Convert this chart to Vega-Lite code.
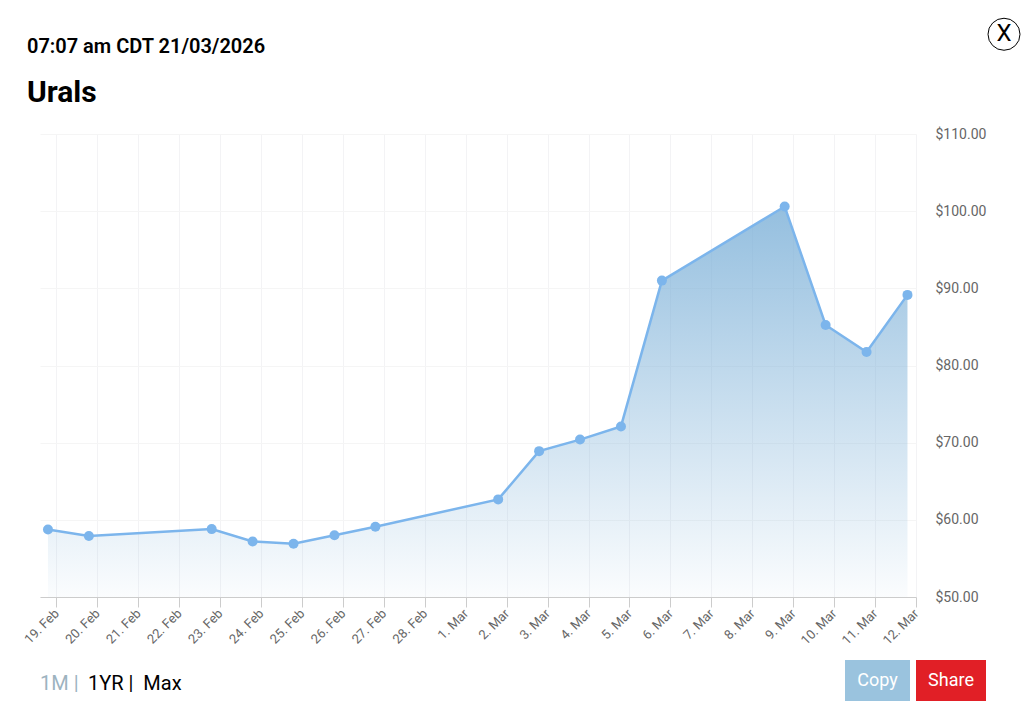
{
  "$schema": "https://vega.github.io/schema/vega-lite/v6.json",
  "padding": {"left": 22, "top": 16, "right": 0, "bottom": 0},
  "background": "#ffffff",
  "bounds": "flush",
  "spacing": 63,
  "datasets": {
    "urals": [
      {"date": "2026-02-18T19:00:00Z", "price": 58.75},
      {"date": "2026-02-19T19:00:00Z", "price": 57.9},
      {"date": "2026-02-22T19:00:00Z", "price": 58.8},
      {"date": "2026-02-23T19:00:00Z", "price": 57.2},
      {"date": "2026-02-24T19:00:00Z", "price": 56.9},
      {"date": "2026-02-25T19:00:00Z", "price": 58.0},
      {"date": "2026-02-26T19:00:00Z", "price": 59.1},
      {"date": "2026-03-01T19:00:00Z", "price": 62.65},
      {"date": "2026-03-02T19:00:00Z", "price": 68.9},
      {"date": "2026-03-03T19:00:00Z", "price": 70.4},
      {"date": "2026-03-04T19:00:00Z", "price": 72.1},
      {"date": "2026-03-05T19:00:00Z", "price": 91.0},
      {"date": "2026-03-08T19:00:00Z", "price": 100.6},
      {"date": "2026-03-09T19:00:00Z", "price": 85.25},
      {"date": "2026-03-10T19:00:00Z", "price": 81.75},
      {"date": "2026-03-11T19:00:00Z", "price": 89.15}
    ]
  },
  "vconcat": [
    {
      "title": {
        "text": "07:07 am CDT 21/03/2026",
        "subtitle": "Urals",
        "anchor": "start",
        "dx": -13,
        "offset": -92,
        "font": "Roboto",
        "fontSize": 20,
        "fontWeight": 600,
        "color": "#000000",
        "subtitleFont": "Roboto",
        "subtitleFontSize": 30,
        "subtitleFontWeight": 700,
        "subtitleColor": "#000000",
        "subtitlePadding": 21
      },
      "width": 964,
      "height": 49,
      "data": {"values": [{"label": "X"}]},
      "encoding": {
        "x": {
          "field": "label",
          "type": "nominal",
          "axis": null,
          "scale": {"type": "point", "domain": ["", "X"], "padding": 0}
        },
        "y": {
          "field": "label",
          "type": "nominal",
          "axis": null,
          "scale": {"type": "band", "domain": ["X", ""]}
        }
      },
      "layer": [
        {"mark": {"type": "point", "shape": "circle", "size": 1024, "stroke": "#000000", "strokeWidth": 1, "fill": "#ffffff", "filled": false, "opacity": 1}},
        {"mark": {"type": "text", "font": "Roboto", "fontSize": 24, "color": "#000000", "baseline": "middle"}, "encoding": {"text": {"field": "label"}}}
      ]
    },
    {
      "width": 876,
      "height": 463,
      "data": {"name": "urals"},
      "encoding": {
        "x": {
          "field": "date",
          "type": "temporal",
          "title": null,
          "scale": {"type": "utc", "domain": ["2026-02-18T14:20:00Z", "2026-03-12T00:00:00Z"]},
          "axis": {
            "tickCount": {"interval": "day", "step": 1},
            "format": "%-d. %b",
            "labelAngle": -45,
            "labelAlign": "right",
            "labelBaseline": "middle",
            "labelOverlap": false,
            "labelFlush": false,
            "labelFont": "Roboto",
            "labelFontSize": 13,
            "labelColor": "#666666",
            "labelPadding": 4,
            "tickSize": 10,
            "tickColor": "#cccccc",
            "domainColor": "#cccccc",
            "gridColor": "#f3f3f5",
            "grid": true
          }
        },
        "y": {
          "field": "price",
          "type": "quantitative",
          "title": null,
          "scale": {"domain": [50, 110], "zero": false, "nice": false},
          "axis": {
            "orient": "right",
            "values": [50, 60, 70, 80, 90, 100, 110],
            "format": "$.2f",
            "labelFont": "Roboto",
            "labelFontSize": 14,
            "labelColor": "#666666",
            "labelPadding": 19,
            "ticks": false,
            "domain": false,
            "grid": true,
            "gridColor": "#f5f5f5"
          }
        }
      },
      "layer": [
        {
          "mark": {
            "type": "area",
            "color": {
              "x1": 0, "y1": 0, "x2": 0, "y2": 1,
              "gradient": "linear",
              "stops": [
                {"offset": 0, "color": "rgba(122,175,215,0.8)"},
                {"offset": 1, "color": "rgba(122,175,215,0.03)"}
              ]
            }
          },
          "encoding": {"y2": {"datum": 50}}
        },
        {"mark": {"type": "line", "color": "#7cb5ec", "strokeWidth": 2.5}},
        {"mark": {"type": "point", "shape": "circle", "filled": true, "size": 100, "color": "#7cb5ec", "opacity": 1}}
      ]
    },
    {
      "bounds": "flush",
      "spacing": 757,
      "hconcat": [
        {
          "width": 48,
          "height": 41,
          "data": {"values": [{"range": "1M |", "active": true}, {"range": "1YR |\u00a0\u00a0Max", "active": false}]},
          "mark": {"type": "text", "font": "Roboto", "fontSize": 20, "align": "left", "baseline": "middle", "dy": 3},
          "encoding": {
            "x": {
              "field": "range",
              "type": "nominal",
              "axis": null,
              "scale": {"type": "point", "domain": ["1M |", "1YR |\u00a0\u00a0Max"], "padding": 0}
            },
            "text": {"field": "range"},
            "color": {
              "field": "active",
              "type": "nominal",
              "legend": null,
              "scale": {"domain": [true, false], "range": ["#9db3bf", "#000000"]}
            }
          }
        },
        {
          "bounds": "flush",
          "spacing": 6,
          "hconcat": [
            {
              "width": 65,
              "height": 41,
              "data": {"values": [{"label": "Copy"}]},
              "layer": [
                {"mark": {"type": "rect", "color": "#9ac3de"}},
                {"mark": {"type": "text", "font": "Roboto", "fontSize": 18, "color": "#ffffff", "baseline": "middle"}, "encoding": {"text": {"field": "label"}}}
              ]
            },
            {
              "width": 70,
              "height": 41,
              "data": {"values": [{"label": "Share"}]},
              "layer": [
                {"mark": {"type": "rect", "color": "#e11f26"}},
                {"mark": {"type": "text", "font": "Roboto", "fontSize": 18, "color": "#ffffff", "baseline": "middle"}, "encoding": {"text": {"field": "label"}}}
              ]
            }
          ]
        }
      ]
    }
  ],
  "config": {"view": {"stroke": null}}
}
